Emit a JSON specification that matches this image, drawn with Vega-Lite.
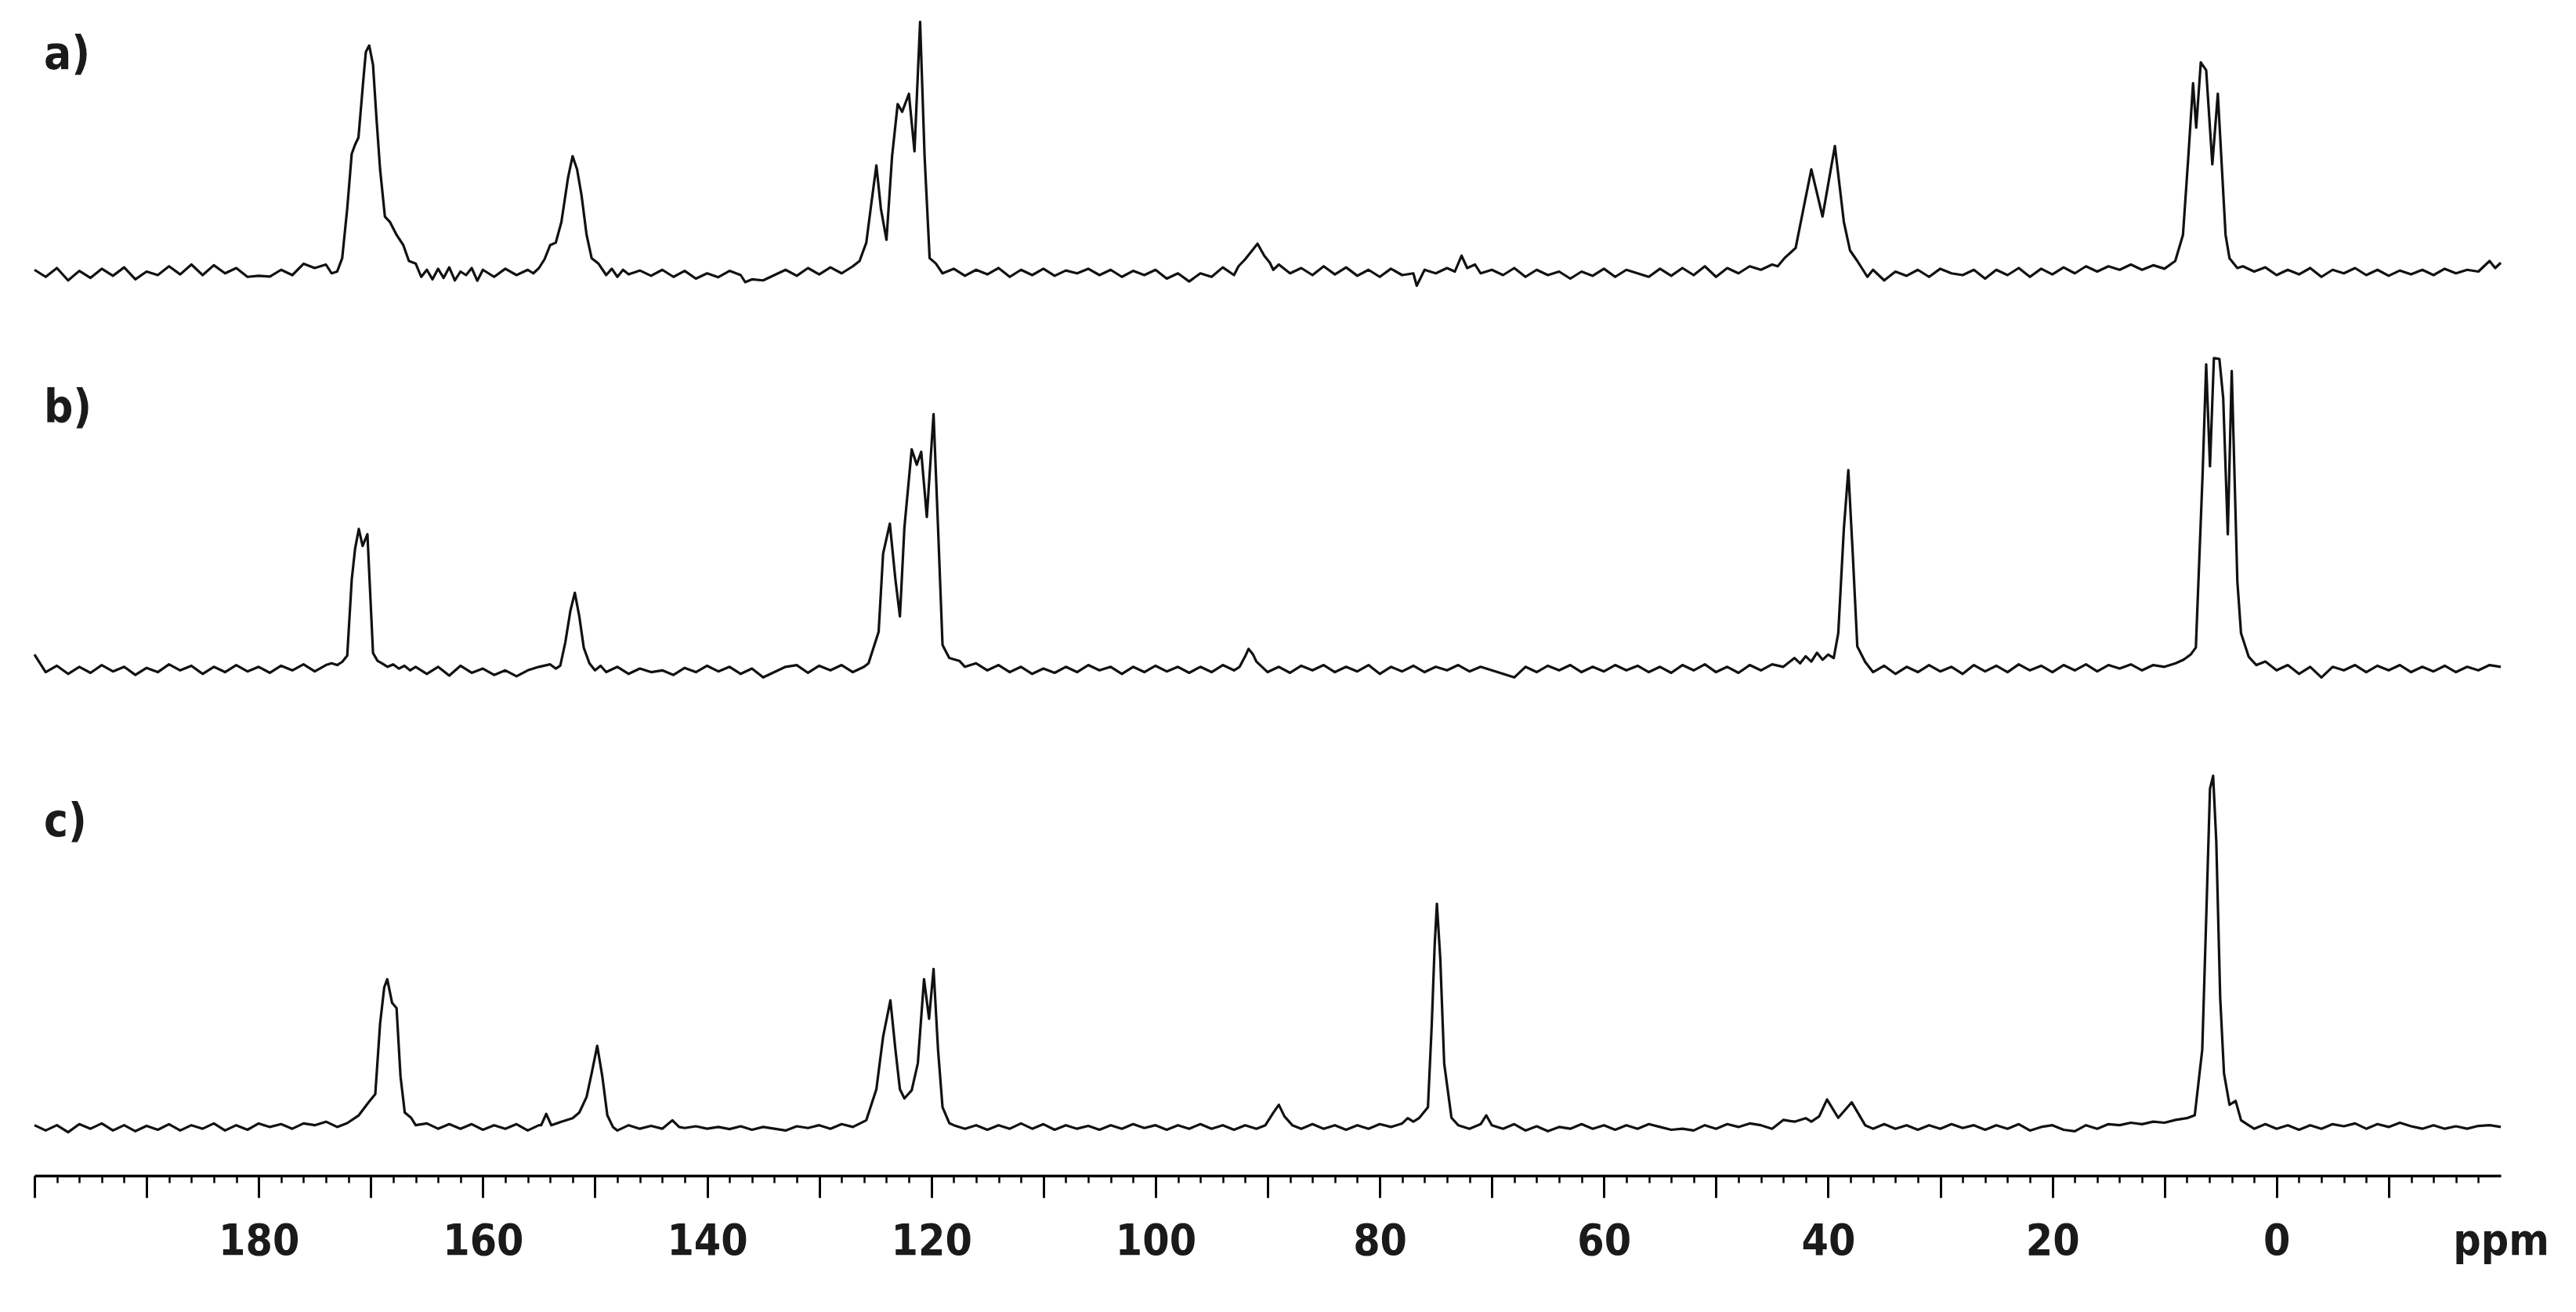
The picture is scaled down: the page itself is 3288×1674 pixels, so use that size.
{
"$schema": "https://vega.github.io/schema/vega-lite/v6.json",
"background": "white",
"padding": {"left": 42, "top": 0, "right": 10, "bottom": 30},
"config": {"view": {"stroke": null}, "concat": {"spacing": 0}},
"datasets": {
"a": [
{"p":200,"i":0.5},{"p":199,"i":-1.5},{"p":198,"i":1},{"p":197,"i":-2.5},{"p":196,"i":0.2},{"p":195,"i":-1.8},{"p":194,"i":0.8},{"p":193,"i":-1.2},{"p":192,"i":1.2},{"p":191,"i":-2.2},{"p":190,"i":0},{"p":189,"i":-1},{"p":188,"i":1.5},{"p":187,"i":-0.8},{"p":186,"i":2},{"p":185,"i":-1},{"p":184,"i":1.8},{"p":183,"i":-0.5},{"p":182,"i":1},{"p":181,"i":-1.5},{"p":180,"i":-1.2},{"p":179,"i":-1.4},{"p":178,"i":0.5},{"p":177,"i":-1},{"p":176,"i":2.2},{"p":175,"i":1},{"p":174,"i":2},{"p":173.5,"i":-0.5},{"p":173,"i":0},
{"p":172.55,"i":3.8},{"p":172.1,"i":17.9},{"p":171.7,"i":33.4},{"p":171.4,"i":36},{"p":171.1,"i":38},{"p":170.65,"i":54.9},{"p":170.44,"i":62.3},{"p":170.14,"i":64.1},{"p":169.8,"i":58.6},{"p":169.5,"i":43.8},{"p":169.17,"i":29},{"p":168.74,"i":15.6},{"p":168.3,"i":14.1},{"p":167.7,"i":10.4},{"p":167.1,"i":7.5},{"p":166.6,"i":3},{"p":166,"i":2.3},
{"p":165.5,"i":-1.5},{"p":165,"i":0.5},{"p":164.5,"i":-2.2},{"p":164,"i":0.8},{"p":163.5,"i":-1.8},{"p":163,"i":1.2},{"p":162.5,"i":-2.5},{"p":162,"i":0},{"p":161.5,"i":-1},{"p":161,"i":1},{"p":160.5,"i":-2.6},{"p":160,"i":0.5},{"p":159,"i":-1.5},{"p":158,"i":0.8},{"p":157,"i":-1},{"p":156,"i":0.5},{"p":155.5,"i":-0.5},{"p":155,"i":1},
{"p":154.5,"i":3.5},{"p":154,"i":7.5},{"p":153.5,"i":8.2},{"p":153,"i":14},{"p":152.4,"i":26.7},{"p":152,"i":32.7},{"p":151.6,"i":29},{"p":151.2,"i":21.6},{"p":150.75,"i":10.4},{"p":150.3,"i":3.8},{"p":149.7,"i":2.3},
{"p":149,"i":-1},{"p":148.5,"i":0.8},{"p":148,"i":-1.5},{"p":147.5,"i":0.5},{"p":147,"i":-0.8},{"p":146,"i":0.3},{"p":145,"i":-1.2},{"p":144,"i":0.5},{"p":143,"i":-1.5},{"p":142,"i":0.2},{"p":141,"i":-2},{"p":140,"i":-0.5},{"p":139,"i":-1.6},{"p":138,"i":0.2},{"p":137,"i":-1},{"p":136.6,"i":-3},{"p":136,"i":-2.2},{"p":135,"i":-2.5},{"p":134,"i":-1},{"p":133,"i":0.5},{"p":132,"i":-1.2},{"p":131,"i":1},{"p":130,"i":-0.8},{"p":129,"i":1.2},{"p":128,"i":-0.5},{"p":127,"i":1.5},
{"p":126.4,"i":3},{"p":125.8,"i":8.2},{"p":125.35,"i":19.3},{"p":124.9,"i":30.1},{"p":124.5,"i":17.9},{"p":124,"i":9},{"p":123.5,"i":32.7},{"p":123,"i":47.5},{"p":122.6,"i":45.3},{"p":122,"i":50.4},{"p":121.5,"i":34.1},{"p":121,"i":70.8},{"p":120.6,"i":32.7},{"p":120.15,"i":3.8},{"p":119.6,"i":2.3},
{"p":119,"i":-0.5},{"p":118,"i":0.8},{"p":117,"i":-1.2},{"p":116,"i":0.5},{"p":115,"i":-0.8},{"p":114,"i":1},{"p":113,"i":-1.5},{"p":112,"i":0.5},{"p":111,"i":-1},{"p":110,"i":0.8},{"p":109,"i":-1.2},{"p":108,"i":0.3},{"p":107,"i":-0.5},{"p":106,"i":0.8},{"p":105,"i":-1},{"p":104,"i":0.5},{"p":103,"i":-1.5},{"p":102,"i":0.2},{"p":101,"i":-1},{"p":100,"i":0.5},{"p":99,"i":-2},{"p":98,"i":-0.5},{"p":97,"i":-2.8},{"p":96,"i":-0.5},{"p":95,"i":-1.5},{"p":94,"i":1.2},{"p":93,"i":-1},
{"p":92.6,"i":1.5},{"p":92,"i":3.5},{"p":91.5,"i":5.5},{"p":90.9,"i":7.9},{"p":90.3,"i":4.5},{"p":89.8,"i":2.5},{"p":89.5,"i":0.5},
{"p":89,"i":2},{"p":88,"i":-0.5},{"p":87,"i":1},{"p":86,"i":-1},{"p":85,"i":1.5},{"p":84,"i":-0.8},{"p":83,"i":1.2},{"p":82,"i":-1.2},{"p":81,"i":0.5},{"p":80,"i":-1.5},{"p":79,"i":0.8},{"p":78,"i":-1},{"p":77,"i":-0.5},{"p":76.7,"i":-4},{"p":76,"i":0.5},{"p":75,"i":-0.5},{"p":74,"i":1},{"p":73.3,"i":0},{"p":72.7,"i":4.5},{"p":72.2,"i":1},{"p":71.5,"i":2},{"p":71,"i":-0.5},{"p":70,"i":0.5},{"p":69,"i":-1},{"p":68,"i":1},{"p":67,"i":-1.5},{"p":66,"i":0.5},{"p":65,"i":-1},{"p":64,"i":0},{"p":63,"i":-2},{"p":62,"i":0},{"p":61,"i":-1.2},{"p":60,"i":0.8},{"p":59,"i":-1.5},{"p":58,"i":0.5},{"p":57,"i":-0.5},{"p":56,"i":-1.5},{"p":55,"i":0.8},{"p":54,"i":-1.2},{"p":53,"i":1},{"p":52,"i":-1},{"p":51,"i":1.5},{"p":50,"i":-1.5},{"p":49,"i":1},{"p":48,"i":-0.5},{"p":47,"i":1.5},{"p":46,"i":0.5},{"p":45,"i":2},{"p":44.5,"i":1.5},
{"p":43.9,"i":3.8},{"p":42.9,"i":6.7},{"p":42.2,"i":17.9},{"p":41.5,"i":29},{"p":40.5,"i":15.6},{"p":39.4,"i":35.6},{"p":38.6,"i":14.1},{"p":38.05,"i":6},{"p":37.4,"i":3},
{"p":37,"i":1},{"p":36.5,"i":-1.5},{"p":36,"i":0.5},{"p":35,"i":-2.5},{"p":34,"i":0},{"p":33,"i":-1.2},{"p":32,"i":0.5},{"p":31,"i":-1.5},{"p":30,"i":0.8},{"p":29,"i":-0.5},{"p":28,"i":-1},{"p":27,"i":0.5},{"p":26,"i":-2},{"p":25,"i":0.5},{"p":24,"i":-1},{"p":23,"i":1},{"p":22,"i":-1.5},{"p":21,"i":0.8},{"p":20,"i":-0.8},{"p":19,"i":1.2},{"p":18,"i":-0.5},{"p":17,"i":1.5},{"p":16,"i":0},{"p":15,"i":1.5},{"p":14,"i":0.5},{"p":13,"i":2},{"p":12,"i":0.5},{"p":11,"i":1.8},{"p":10,"i":0.8},
{"p":9.04,"i":3},{"p":8.35,"i":10.4},{"p":7.87,"i":32.7},{"p":7.45,"i":53.4},{"p":7.17,"i":40.8},{"p":6.76,"i":59.3},{"p":6.28,"i":57.1},{"p":5.73,"i":30.4},{"p":5.24,"i":50.4},{"p":4.55,"i":10.4},{"p":4.2,"i":3.8},
{"p":3.5,"i":1},{"p":3,"i":1.5},{"p":2,"i":0},{"p":1,"i":1.2},{"p":0,"i":-1},{"p":-1,"i":0.5},{"p":-2,"i":-0.8},{"p":-3,"i":1},{"p":-4,"i":-1.5},{"p":-5,"i":0.5},{"p":-6,"i":-0.5},{"p":-7,"i":1},{"p":-8,"i":-1},{"p":-9,"i":0.5},{"p":-10,"i":-1.2},{"p":-11,"i":0.3},{"p":-12,"i":-0.8},{"p":-13,"i":0.5},{"p":-14,"i":-1},{"p":-15,"i":0.8},{"p":-16,"i":-0.5},{"p":-17,"i":0.5},{"p":-18,"i":0},{"p":-19,"i":3},{"p":-19.5,"i":1},{"p":-20,"i":2.5}
],
"b": [
{"p":200,"i":4},{"p":199.5,"i":1.5},{"p":199,"i":-1},{"p":198,"i":0.8},{"p":197,"i":-1.5},{"p":196,"i":0.5},{"p":195,"i":-1.2},{"p":194,"i":1},{"p":193,"i":-0.8},{"p":192,"i":0.5},{"p":191,"i":-1.8},{"p":190,"i":0.2},{"p":189,"i":-1},{"p":188,"i":1.2},{"p":187,"i":-0.5},{"p":186,"i":0.8},{"p":185,"i":-1.5},{"p":184,"i":0.5},{"p":183,"i":-1},{"p":182,"i":1},{"p":181,"i":-0.8},{"p":180,"i":0.5},{"p":179,"i":-1.2},{"p":178,"i":0.8},{"p":177,"i":-0.5},{"p":176,"i":1.2},{"p":175,"i":-0.8},{"p":174,"i":1},{"p":173.5,"i":1.5},{"p":173,"i":1},
{"p":172.55,"i":1.9},{"p":172.1,"i":3.7},{"p":171.7,"i":25.2},{"p":171.4,"i":34},{"p":171.07,"i":39.6},{"p":170.73,"i":34.8},{"p":170.3,"i":38.1},{"p":170,"i":17.8},{"p":169.8,"i":4.4},{"p":169.4,"i":2.2},
{"p":169,"i":1.5},{"p":168.5,"i":0.5},{"p":168,"i":1.2},{"p":167.5,"i":0},{"p":167,"i":0.8},{"p":166.5,"i":-0.5},{"p":166,"i":0.5},{"p":165,"i":-1.5},{"p":164,"i":0.5},{"p":163,"i":-2},{"p":162,"i":0.8},{"p":161,"i":-1.2},{"p":160,"i":0},{"p":159,"i":-1.8},{"p":158,"i":-0.5},{"p":157,"i":-2.2},{"p":156,"i":-0.5},{"p":155,"i":0.5},{"p":154,"i":1.2},{"p":153.5,"i":0},
{"p":153.1,"i":0.8},{"p":152.65,"i":7.4},{"p":152.2,"i":16.3},{"p":151.8,"i":21.5},{"p":151.4,"i":14.8},{"p":151,"i":5.9},{"p":150.5,"i":1.5},
{"p":150,"i":-0.5},{"p":149.5,"i":0.8},{"p":149,"i":-1},{"p":148,"i":0.5},{"p":147,"i":-1.5},{"p":146,"i":0},{"p":145,"i":-1},{"p":144,"i":-0.5},{"p":143,"i":-1.8},{"p":142,"i":0.2},{"p":141,"i":-1},{"p":140,"i":0.8},{"p":139,"i":-0.8},{"p":138,"i":0.5},{"p":137,"i":-1.5},{"p":136,"i":0},{"p":135,"i":-2.5},{"p":134,"i":-1},{"p":133,"i":0.5},{"p":132,"i":1},{"p":131,"i":-1.2},{"p":130,"i":0.8},{"p":129,"i":-0.5},{"p":128,"i":1},{"p":127,"i":-1},{"p":126,"i":0.5},
{"p":125.6,"i":1.5},{"p":124.7,"i":10.4},{"p":124.3,"i":32.6},{"p":123.7,"i":41.1},{"p":123.2,"i":25.2},{"p":122.8,"i":14.8},{"p":122.4,"i":40},{"p":121.75,"i":62.2},{"p":121.3,"i":57.8},{"p":120.9,"i":61.5},{"p":120.4,"i":43},{"p":119.8,"i":72.2},{"p":119.4,"i":40},{"p":119,"i":6.7},{"p":118.4,"i":3},{"p":117.5,"i":2.2},
{"p":117,"i":0.5},{"p":116,"i":1.5},{"p":115,"i":-0.5},{"p":114,"i":1},{"p":113,"i":-1},{"p":112,"i":0.5},{"p":111,"i":-1.5},{"p":110,"i":0},{"p":109,"i":-1.2},{"p":108,"i":0.5},{"p":107,"i":-1},{"p":106,"i":1},{"p":105,"i":-0.5},{"p":104,"i":0.5},{"p":103,"i":-1.5},{"p":102,"i":0.5},{"p":101,"i":-1},{"p":100,"i":0.8},{"p":99,"i":-0.8},{"p":98,"i":0.5},{"p":97,"i":-1.2},{"p":96,"i":0.5},{"p":95,"i":-1},{"p":94,"i":1},{"p":93,"i":-0.5},
{"p":92.5,"i":0.5},{"p":92,"i":3.5},{"p":91.7,"i":5.6},{"p":91.3,"i":4},{"p":91,"i":2},{"p":90.5,"i":0.5},
{"p":90,"i":-1},{"p":89,"i":0.5},{"p":88,"i":-1.2},{"p":87,"i":0.8},{"p":86,"i":-0.5},{"p":85,"i":1},{"p":84,"i":-1},{"p":83,"i":0.5},{"p":82,"i":-0.8},{"p":81,"i":1},{"p":80,"i":-1.5},{"p":79,"i":0.5},{"p":78,"i":-0.8},{"p":77,"i":0.8},{"p":76,"i":-1},{"p":75,"i":0.5},{"p":74,"i":-0.5},{"p":73,"i":1},{"p":72,"i":-0.8},{"p":71,"i":0.5},{"p":70,"i":-0.5},{"p":69,"i":-1.5},{"p":68,"i":-2.5},{"p":67,"i":0.5},{"p":66,"i":-1},{"p":65,"i":0.8},{"p":64,"i":-0.5},{"p":63,"i":1},{"p":62,"i":-1},{"p":61,"i":0.5},{"p":60,"i":-0.8},{"p":59,"i":1},{"p":58,"i":-0.5},{"p":57,"i":0.8},{"p":56,"i":-1},{"p":55,"i":0.5},{"p":54,"i":-1.2},{"p":53,"i":1},{"p":52,"i":-0.5},{"p":51,"i":1.2},{"p":50,"i":-1},{"p":49,"i":0.5},{"p":48,"i":-1.2},{"p":47,"i":1},{"p":46,"i":-0.5},{"p":45,"i":1.2},{"p":44,"i":0.5},{"p":43,"i":3},{"p":42.5,"i":1.5},{"p":42,"i":3.5},{"p":41.5,"i":2},{"p":41,"i":4.5},{"p":40.5,"i":2.5},{"p":40,"i":4},{"p":39.5,"i":3},
{"p":39.1,"i":10},{"p":38.6,"i":39.6},{"p":38.2,"i":56.3},{"p":37.8,"i":32.2},{"p":37.4,"i":6.3},{"p":36.7,"i":1.9},
{"p":36,"i":-1},{"p":35,"i":0.8},{"p":34,"i":-1.5},{"p":33,"i":0.5},{"p":32,"i":-1},{"p":31,"i":1},{"p":30,"i":-0.8},{"p":29,"i":0.5},{"p":28,"i":-1.5},{"p":27,"i":1},{"p":26,"i":-0.8},{"p":25,"i":0.8},{"p":24,"i":-1},{"p":23,"i":1.2},{"p":22,"i":-0.5},{"p":21,"i":0.8},{"p":20,"i":-1},{"p":19,"i":1},{"p":18,"i":-0.5},{"p":17,"i":1.2},{"p":16,"i":-0.8},{"p":15,"i":1},{"p":14,"i":0},{"p":13,"i":1.2},{"p":12,"i":-0.5},{"p":11,"i":1},{"p":10,"i":0.5},{"p":9,"i":1.5},{"p":8.3,"i":2.5},
{"p":7.66,"i":4},{"p":7.2,"i":6},{"p":6.6,"i":55},{"p":6.28,"i":86.3},{"p":5.94,"i":57.4},{"p":5.59,"i":88.1},{"p":5.1,"i":87.8},{"p":4.76,"i":76.7},{"p":4.35,"i":38.1},{"p":4,"i":84.4},{"p":3.5,"i":24.8},{"p":3.17,"i":10},{"p":2.48,"i":3.3},{"p":1.8,"i":1},
{"p":1,"i":2},{"p":0,"i":-0.5},{"p":-1,"i":1},{"p":-2,"i":-1.5},{"p":-3,"i":0.5},{"p":-4,"i":-2.5},{"p":-5,"i":0.5},{"p":-6,"i":-0.5},{"p":-7,"i":1},{"p":-8,"i":-1},{"p":-9,"i":0.8},{"p":-10,"i":-0.5},{"p":-11,"i":1},{"p":-12,"i":-1},{"p":-13,"i":0.5},{"p":-14,"i":-0.8},{"p":-15,"i":0.8},{"p":-16,"i":-1},{"p":-17,"i":0.5},{"p":-18,"i":-0.5},{"p":-19,"i":1},{"p":-20,"i":0.5}
],
"c": [
{"p":200,"i":0.5},{"p":199,"i":-1},{"p":198,"i":0.5},{"p":197,"i":-1.5},{"p":196,"i":0.8},{"p":195,"i":-0.5},{"p":194,"i":1},{"p":193,"i":-1},{"p":192,"i":0.5},{"p":191,"i":-1.2},{"p":190,"i":0.3},{"p":189,"i":-0.8},{"p":188,"i":0.8},{"p":187,"i":-1},{"p":186,"i":0.5},{"p":185,"i":-0.5},{"p":184,"i":1},{"p":183,"i":-1},{"p":182,"i":0.5},{"p":181,"i":-0.8},{"p":180,"i":1},{"p":179,"i":0},{"p":178,"i":0.8},{"p":177,"i":-0.5},{"p":176,"i":1},{"p":175,"i":0.5},{"p":174,"i":1.5},{"p":173,"i":0},
{"p":172.1,"i":1.1},{"p":171.07,"i":3.3},{"p":170.2,"i":7},{"p":169.6,"i":9.3},{"p":169.17,"i":29.3},{"p":168.8,"i":39.6},{"p":168.53,"i":41.9},{"p":168.1,"i":35.2},{"p":167.7,"i":33.7},{"p":167.35,"i":14.4},{"p":166.97,"i":4.1},{"p":166.4,"i":2.6},
{"p":166,"i":0.5},{"p":165,"i":1},{"p":164,"i":-0.5},{"p":163,"i":0.8},{"p":162,"i":-0.5},{"p":161,"i":0.8},{"p":160,"i":-0.8},{"p":159,"i":0.5},{"p":158,"i":-0.5},{"p":157,"i":0.8},{"p":156,"i":-1},{"p":155,"i":0.5},{"p":154.8,"i":0.5},{"p":154.35,"i":3.7},{"p":153.9,"i":0.5},{"p":153,"i":1.5},{"p":152,"i":2.5},
{"p":151.4,"i":4.1},{"p":150.75,"i":8.5},{"p":150.3,"i":15.2},{"p":149.8,"i":23},{"p":149.35,"i":14.4},{"p":148.9,"i":3.3},{"p":148.4,"i":0},
{"p":148,"i":-1},{"p":147,"i":0.5},{"p":146,"i":-0.5},{"p":145,"i":0.3},{"p":144,"i":-0.5},{"p":143.1,"i":1.9},{"p":142.5,"i":0},{"p":142,"i":-0.3},{"p":141,"i":0.2},{"p":140,"i":-0.5},{"p":139,"i":0},{"p":138,"i":-0.6},{"p":137,"i":0.2},{"p":136,"i":-0.8},{"p":135,"i":0},{"p":134,"i":-0.5},{"p":133,"i":-1},{"p":132,"i":0.2},{"p":131,"i":-0.3},{"p":130,"i":0.5},{"p":129,"i":-0.5},{"p":128,"i":0.8},{"p":127,"i":0},{"p":126.5,"i":0.8},
{"p":125.8,"i":1.9},{"p":124.9,"i":10.7},{"p":124.3,"i":25.6},{"p":123.65,"i":35.9},{"p":123.2,"i":21.9},{"p":122.8,"i":10.7},{"p":122.4,"i":8.1},{"p":121.75,"i":10.4},{"p":121.2,"i":18.1},{"p":120.65,"i":41.9},{"p":120.2,"i":30.7},{"p":119.8,"i":44.8},{"p":119.4,"i":21.9},{"p":119,"i":5.6},{"p":118.4,"i":1.1},
{"p":118,"i":0.5},{"p":117,"i":-0.5},{"p":116,"i":0.5},{"p":115,"i":-0.8},{"p":114,"i":0.5},{"p":113,"i":-0.5},{"p":112,"i":1},{"p":111,"i":-0.5},{"p":110,"i":0.8},{"p":109,"i":-0.8},{"p":108,"i":0.5},{"p":107,"i":-0.5},{"p":106,"i":0.3},{"p":105,"i":-0.8},{"p":104,"i":0.5},{"p":103,"i":-0.5},{"p":102,"i":0.8},{"p":101,"i":-0.3},{"p":100,"i":0.5},{"p":99,"i":-0.8},{"p":98,"i":0.5},{"p":97,"i":-0.5},{"p":96,"i":0.8},{"p":95,"i":-0.5},{"p":94,"i":0.5},{"p":93,"i":-0.8},{"p":92,"i":0.5},{"p":91,"i":-0.5},
{"p":90.2,"i":0.5},{"p":89.5,"i":4},{"p":89,"i":6.3},{"p":88.5,"i":3},{"p":87.8,"i":0.5},
{"p":87,"i":-0.5},{"p":86,"i":0.8},{"p":85,"i":-0.5},{"p":84,"i":0.5},{"p":83,"i":-0.8},{"p":82,"i":0.5},{"p":81,"i":-0.5},{"p":80,"i":0.8},{"p":79,"i":0},{"p":78,"i":1},{"p":77.5,"i":2.5},{"p":77,"i":1.5},{"p":76.5,"i":2.5},
{"p":75.7,"i":5.6},{"p":75.36,"i":29},{"p":75.1,"i":51.5},{"p":74.9,"i":63.3},{"p":74.6,"i":47.8},{"p":74.25,"i":18},{"p":73.6,"i":2.6},
{"p":73,"i":0.5},{"p":72,"i":-0.5},{"p":71,"i":0.8},{"p":70.5,"i":3.3},{"p":70,"i":0.5},{"p":69,"i":-0.5},{"p":68,"i":0.8},{"p":67,"i":-1},{"p":66,"i":0.2},{"p":65,"i":-1.2},{"p":64,"i":0},{"p":63,"i":-0.5},{"p":62,"i":0.8},{"p":61,"i":-0.5},{"p":60,"i":0.5},{"p":59,"i":-0.8},{"p":58,"i":0.5},{"p":57,"i":-0.5},{"p":56,"i":0.8},{"p":55,"i":0},{"p":54,"i":-0.8},{"p":53,"i":-0.5},{"p":52,"i":-1},{"p":51,"i":0.5},{"p":50,"i":-0.5},{"p":49,"i":0.8},{"p":48,"i":0},{"p":47,"i":1},{"p":46,"i":0.5},{"p":45,"i":-0.5},{"p":44,"i":2},{"p":43,"i":1.5},{"p":42,"i":2.5},{"p":41.5,"i":1.5},
{"p":40.8,"i":3},{"p":40.1,"i":7.8},{"p":39.1,"i":2.6},{"p":37.9,"i":7},{"p":36.7,"i":0.5},
{"p":36,"i":-0.5},{"p":35,"i":0.8},{"p":34,"i":-0.5},{"p":33,"i":0.5},{"p":32,"i":-0.8},{"p":31,"i":0.5},{"p":30,"i":-0.5},{"p":29,"i":0.8},{"p":28,"i":-0.3},{"p":27,"i":0.5},{"p":26,"i":-0.8},{"p":25,"i":0.5},{"p":24,"i":-0.5},{"p":23,"i":0.8},{"p":22,"i":-1},{"p":21,"i":0},{"p":20,"i":0.5},{"p":19,"i":-0.8},{"p":18,"i":-1.2},{"p":17,"i":0.5},{"p":16,"i":-0.5},{"p":15,"i":0.8},{"p":14,"i":0.5},{"p":13,"i":1.2},{"p":12,"i":0.8},{"p":11,"i":1.5},{"p":10,"i":1.2},{"p":9,"i":2},{"p":8,"i":2.5},
{"p":7.3,"i":3.3},{"p":6.63,"i":21.9},{"p":6.28,"i":58.9},{"p":5.94,"i":95.9},{"p":5.66,"i":99.6},{"p":5.38,"i":81.1},{"p":5.03,"i":36.7},{"p":4.69,"i":15.2},{"p":4.2,"i":6.3},{"p":3.65,"i":7.4},{"p":3.17,"i":1.9},
{"p":2.5,"i":0.5},{"p":2,"i":-0.5},{"p":1,"i":0.8},{"p":0,"i":-0.5},{"p":-1,"i":0.5},{"p":-2,"i":-0.8},{"p":-3,"i":0.5},{"p":-4,"i":-0.5},{"p":-5,"i":0.8},{"p":-6,"i":0.2},{"p":-7,"i":1},{"p":-8,"i":-0.5},{"p":-9,"i":0.8},{"p":-10,"i":0},{"p":-11,"i":1.2},{"p":-12,"i":0.2},{"p":-13,"i":-0.5},{"p":-14,"i":0.5},{"p":-15,"i":-0.5},{"p":-16,"i":0.2},{"p":-17,"i":-0.5},{"p":-18,"i":0.3},{"p":-19,"i":0.5},{"p":-20,"i":0}
]
},
"vconcat": [
{
"width": 3148, "height": 423,
"data": {"name": "a"},
"title": {"text": "a)", "anchor": "start", "frame": "group", "orient": "top", "offset": -146, "baseline": "alphabetic", "dx": 12, "font": "Liberation Sans Narrow, DejaVu Sans Condensed, Liberation Sans", "fontWeight": "bold", "fontSize": 58, "color": "#1a1a1a"},
"mark": {"type": "line", "color": "#111111", "strokeWidth": 3.2, "strokeJoin": "round"},
"encoding": {
"x": {"field": "p", "type": "quantitative", "scale": {"domain": [200, -20], "nice": false, "zero": false}, "axis": null},
"y": {"field": "i", "type": "quantitative", "scale": {"domain": [-17, 77], "nice": false, "zero": false}, "axis": null}
}
},
{
"width": 3148, "height": 480,
"data": {"name": "b"},
"title": {"text": "b)", "anchor": "start", "frame": "group", "orient": "top", "offset": -174, "baseline": "alphabetic", "dx": 12, "font": "Liberation Sans Narrow, DejaVu Sans Condensed, Liberation Sans", "fontWeight": "bold", "fontSize": 58, "color": "#1a1a1a"},
"mark": {"type": "line", "color": "#111111", "strokeWidth": 3.2, "strokeJoin": "round"},
"encoding": {
"x": {"field": "p", "type": "quantitative", "scale": {"domain": [200, -20], "nice": false, "zero": false}, "axis": null},
"y": {"field": "i", "type": "quantitative", "scale": {"domain": [-11.1, 95.6], "nice": false, "zero": false}, "axis": null}
}
},
{
"width": 3148, "height": 597,
"data": {"name": "c"},
"title": {"text": "c)", "anchor": "start", "frame": "group", "orient": "top", "offset": -222, "baseline": "alphabetic", "dx": 12, "font": "Liberation Sans Narrow, DejaVu Sans Condensed, Liberation Sans", "fontWeight": "bold", "fontSize": 58, "color": "#1a1a1a"},
"resolve": {"axis": {"x": "independent"}},
"layer": [
{
"mark": {"type": "line", "color": "#111111", "strokeWidth": 3.2, "strokeJoin": "round"},
"encoding": {
"x": {"field": "p", "type": "quantitative", "scale": {"domain": [200, -20], "nice": false, "zero": false},
"axis": {"orient": "bottom", "title": null, "grid": false,
"values": [200,190,180,170,160,150,140,130,120,110,100,90,80,70,60,50,40,30,20,10,0,-10,-20],
"domainColor": "black", "domainWidth": 3.5,
"tickSize": 28, "tickWidth": 3, "tickColor": {"condition": {"test": "datum.value < -15", "value": "transparent"}, "value": "black"},
"labelExpr": "datum.value == -20 ? 'ppm' : ((datum.value % 20 == 0 && datum.value >= 0 && datum.value < 200) ? datum.label : '')",
"labelFont": "Liberation Sans Narrow, DejaVu Sans Condensed, Liberation Sans", "labelFontWeight": "bold", "labelFontSize": 55, "labelColor": "#1a1a1a",
"labelPadding": 29, "labelFlush": false, "labelOverlap": false, "labelBound": false}},
"y": {"field": "i", "type": "quantitative", "scale": {"domain": [-13.8, 118.9], "nice": false, "zero": false}, "axis": null}
}
},
{
"mark": {"type": "line", "strokeOpacity": 0},
"encoding": {
"x": {"field": "p", "type": "quantitative", "scale": {"domain": [200, -20], "nice": false, "zero": false},
"axis": {"orient": "bottom", "title": null, "grid": false, "domain": false, "labels": false,
"values": [198,196,194,192,188,186,184,182,178,176,174,172,168,166,164,162,158,156,154,152,148,146,144,142,138,136,134,132,128,126,124,122,118,116,114,112,108,106,104,102,98,96,94,92,88,86,84,82,78,76,74,72,68,66,64,62,58,56,54,52,48,46,44,42,38,36,34,32,28,26,24,22,18,16,14,12,8,6,4,2,-2,-4,-6,-8,-12,-14,-16,-18],
"tickSize": 9, "tickWidth": 2.5, "tickColor": "black"}},
"y": {"field": "i", "type": "quantitative", "scale": {"domain": [-13.8, 118.9], "nice": false, "zero": false}, "axis": null}
}
}
]
}
]
}
